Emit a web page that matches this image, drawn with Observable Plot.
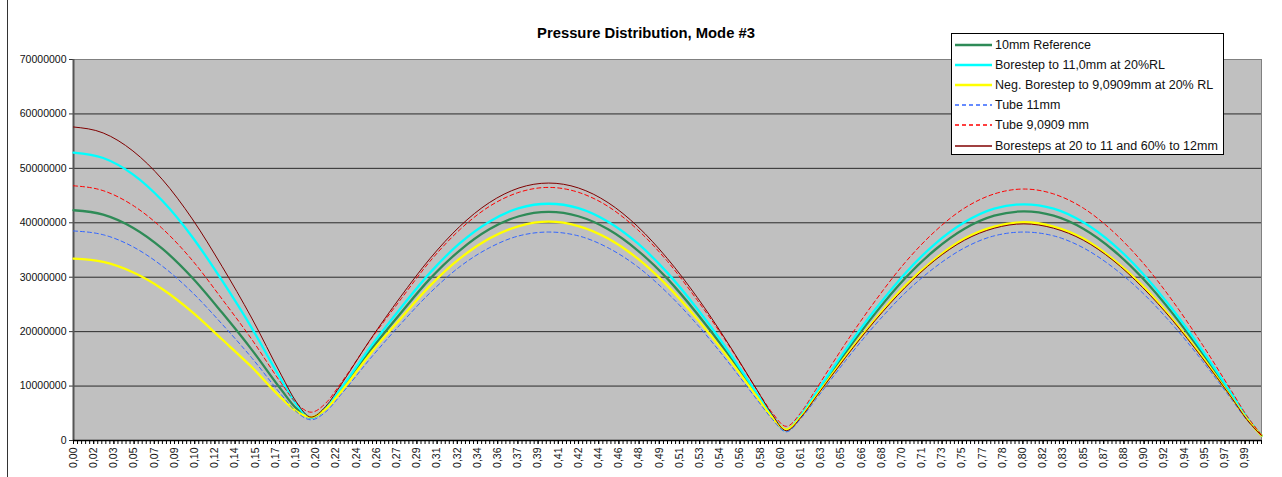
<!DOCTYPE html>
<html><head><meta charset="utf-8">
<script src="https://cdn.jsdelivr.net/npm/d3@7"></script>
<script src="https://cdn.jsdelivr.net/npm/@observablehq/plot@0.6"></script>
<style>
body{margin:0;background:#fff;font-family:"Liberation Sans",Arial,sans-serif;}
#wrap{position:relative;width:1282px;height:477px;overflow:hidden;}
#chart{position:absolute;left:0;top:0;}
#title{position:absolute;left:0;width:1292px;top:25px;text-align:center;font-weight:bold;font-size:14.8px;color:#000;}
#outer{position:absolute;left:7px;top:0;width:1px;height:477px;background:#333;}
#legend{position:absolute;left:951px;top:33px;width:271px;height:120px;border:1px solid #000;background:#fff;}
.row{position:absolute;left:0;height:20px;display:flex;align-items:center;font-size:12.5px;color:#111;white-space:nowrap;}
.row svg{margin-left:3px;margin-right:3px;}
</style>
</head><body>
<div id="wrap">
  <div id="chart"></div>
  <div id="outer"></div>
  <div id="title">Pressure Distribution, Mode #3</div>
  <div id="legend"></div>
</div>
<script>
// relative position along the tube
const xs = [0,0.025,0.05,0.075,0.1,0.125,0.15,0.175,0.1875,0.2,0.2125,0.225,0.25,0.275,0.3,0.325,0.35,0.375,0.4,0.425,0.45,0.475,0.5,0.525,0.55,0.575,0.5875,0.6,0.6125,0.625,0.65,0.675,0.7,0.725,0.75,0.775,0.8,0.825,0.85,0.875,0.9,0.925,0.95,0.975,0.9875,1.0];
// pressure values, in millions
const ref10mm   = [42.3,41.5,39.1,35.2,29.9,23.5,16.7,9.3,5.9,4.2,5.9,9.2,16.6,23.3,29.7,34.9,38.8,41.2,42.0,41.2,38.8,34.9,29.7,23.3,16.2,8.4,4.5,1.9,4.5,8.4,16.2,23.4,29.8,35.0,38.9,41.3,42.1,41.3,38.9,35.0,29.8,23.4,16.1,8.2,4.2,0.9];
const bore11    = [52.9,51.9,48.9,44.0,37.4,29.4,20.7,11.1,6.7,4.2,6.0,9.5,17.2,24.2,30.8,36.2,40.2,42.7,43.5,42.7,40.2,36.2,30.8,24.2,16.8,8.7,4.7,1.9,4.7,8.7,16.7,24.1,30.7,36.1,40.1,42.6,43.4,42.6,40.1,36.1,30.7,24.1,16.6,8.5,4.3,0.9];
const negBore   = [33.4,32.8,30.9,27.8,23.6,18.6,13.5,7.8,5.4,4.3,5.8,8.9,16.0,22.3,28.4,33.4,37.1,39.4,40.2,39.4,37.1,33.4,28.4,22.3,15.5,8.1,4.4,2.0,4.4,8.1,15.5,22.3,28.4,33.3,37.1,39.3,40.1,39.3,37.1,33.3,28.4,22.3,15.4,7.8,4.0,0.9];
const tube11    = [38.5,37.8,35.6,32.0,27.2,21.4,15.2,8.4,5.3,3.8,5.3,8.4,15.1,21.3,27.1,31.9,35.4,37.6,38.3,37.6,35.4,31.9,27.1,21.3,14.7,7.6,4.1,1.6,4.1,7.6,14.7,21.3,27.1,31.8,35.4,37.6,38.3,37.6,35.4,31.8,27.1,21.3,14.7,7.5,3.8,0.9];
const tube909   = [46.8,45.9,43.2,38.9,33.1,26.0,18.6,10.5,6.9,5.2,6.9,10.5,18.5,25.8,32.9,38.7,43.0,45.6,46.5,45.6,43.0,38.7,32.9,25.8,18.0,9.4,5.3,2.6,5.2,9.4,17.9,25.7,32.7,38.4,42.7,45.3,46.2,45.3,42.7,38.4,32.7,25.7,17.7,9.0,4.6,1.0];
const boresteps = [57.6,56.5,53.2,47.9,40.7,32.0,22.5,12.0,7.1,4.3,6.3,10.2,18.6,26.3,33.4,39.3,43.7,46.4,47.3,46.4,43.7,39.3,33.4,26.3,18.2,9.4,5.0,1.8,4.3,8.0,15.3,22.1,28.1,33.1,36.8,39.0,39.8,39.0,36.8,33.1,28.1,22.1,15.2,7.8,3.9,0.9];

const seriesNames = ["10mm Reference","Borestep to 11,0mm at 20%RL","Neg. Borestep to 9,0909mm at 20% RL","Tube 11mm","Tube 9,0909 mm","Boresteps at 20 to 11 and 60% to 12mm"];
const seriesColors = ["#2E8B57","#00FFFF","#FFFF00","#3366FF","#FF0000","#800000"];
const seriesWidths = [2.3,2.3,2.3,1,1,1];
const seriesDash = [null,null,null,"4,3","4,3",null];
const seriesValues = [ref10mm,bore11,negBore,tube11,tube909,boresteps];

const yTicks = [0,10000000,20000000,30000000,40000000,50000000,60000000,70000000];
const xTickLabels = ["0,00","0,02","0,03","0,05","0,07","0,09","0,10","0,12","0,14","0,15","0,17","0,19","0,20","0,22","0,24","0,26","0,27","0,29","0,31","0,32","0,34","0,36","0,37","0,39","0,41","0,42","0,44","0,46","0,48","0,49","0,51","0,53","0,54","0,56","0,58","0,60","0,61","0,63","0,65","0,66","0,68","0,70","0,71","0,73","0,75","0,77","0,78","0,80","0,82","0,83","0,85","0,87","0,88","0,90","0,92","0,94","0,95","0,97","0,99"];
const xTickStep = 0.017;
const xTickVals = xTickLabels.map((_, i) => i * xTickStep);
const minorTicks = d3.range(0, 1.0001, 1/294);

const lineMarks = seriesValues.map((vals, k) =>
  Plot.line(xs.map((x, i) => ({x, y: vals[i] * 1e6})), {
    x: "x", y: "y", curve: "monotone-x",
    stroke: seriesColors[k], strokeWidth: seriesWidths[k],
    strokeDasharray: seriesDash[k] || undefined
  })
);

const chart = Plot.plot({
  width: 1282, height: 477,
  marginLeft: 73, marginRight: 21, marginTop: 59, marginBottom: 37,
  style: {background: "transparent", fontFamily: "'Liberation Sans', Arial, sans-serif", color: "#111"},
  x: {domain: [0, 1]},
  y: {domain: [0, 70000000]},
  marks: [
    Plot.frame({fill: "#C0C0C0", stroke: "#808080"}),
    Plot.ruleY(yTicks.slice(1, -1), {stroke: "#2a2a2a", strokeWidth: 1}),
    Plot.axisY({ticks: yTicks, tickFormat: d => d.toFixed(0), tickSize: 4, tickPadding: 3, fontSize: 10.5, label: null, stroke: "#333"}),
    Plot.axisX({ticks: minorTicks, tickFormat: () => "", tickSize: 4, label: null, stroke: "#000"}),
    Plot.axisX({ticks: xTickVals, tickFormat: d => xTickLabels[Math.round(d / xTickStep)], tickRotate: -90, tickSize: 4, tickPadding: 3, fontSize: 10.5, label: null, stroke: "#000"}),
    Plot.ruleX([0], {stroke: "#555", strokeWidth: 2}),
    Plot.ruleY([0], {stroke: "#000", strokeWidth: 1.5}),
    ...lineMarks
  ]
});
document.getElementById("chart").appendChild(chart);

// legend
const legend = document.getElementById("legend");
seriesNames.forEach((name, k) => {
  const row = document.createElement("div");
  row.className = "row";
  row.style.top = (1 + k * 20.1) + "px";
  const dash = seriesDash[k] ? `stroke-dasharray="${seriesDash[k]}"` : "";
  row.innerHTML = `<svg width="37" height="6"><line x1="0" x2="37" y1="3" y2="3" stroke="${seriesColors[k]}" stroke-width="${seriesWidths[k] + 0.3}" ${dash}/></svg><span>${name}</span>`;
  legend.appendChild(row);
});
</script>
</body></html>
